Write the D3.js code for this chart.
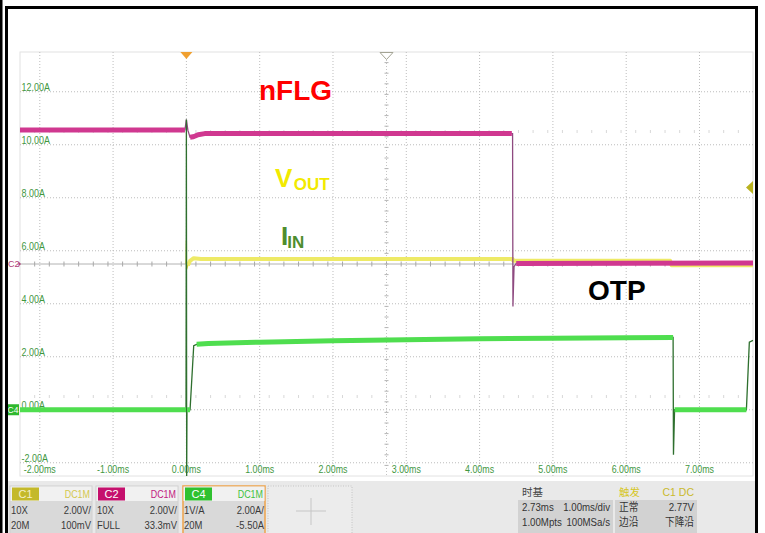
<!DOCTYPE html>
<html>
<head>
<meta charset="utf-8">
<script src="https://cdn.jsdelivr.net/npm/d3@7"></script>
<style>
  body { margin: 0; background: #fff; }
  svg { display: block; font-family: Arial, "Liberation Sans", sans-serif; }
</style>
</head>
<body>
<svg id="canvas" width="765" height="533"></svg>
<script>
// ************************************************************************************** //
// Data (time in ms, levels in the C4 amp scale)

var time_ticks  = [-2, -1, 0, 1, 2, 3, 4, 5, 6, 7];
var time_labels = ['-2.00ms', '-1.00ms', '0.00ms', '1.00ms', '2.00ms', '3.00ms', '4.00ms', '5.00ms', '6.00ms', '7.00ms'];
var amp_ticks   = [-2, 0, 2, 4, 6, 8, 10, 12];
var amp_labels  = ['-2.00A', '0.00A', '2.00A', '4.00A', '6.00A', '8.00A', '10.00A', '12.00A'];

// nFLG (C2)
var nflg_t    = [-2.27, -0.02, 0.0, 0.02, 0.05, 0.09, 0.12, 0.16, 0.25, 4.44, 4.45, 4.455, 4.47, 4.5, 7.73];
var nflg_v    = [10.56, 10.56, 10.95, 10.55, 10.28, 10.3, 10.33, 10.38, 10.42, 10.42, 10.42, 3.9, 5.4, 5.52, 5.54];
var nflg_band = [10.56, 10.56, null, null, 10.28, 10.3, 10.33, 10.38, 10.42, 10.42, null, null, null, 5.52, 5.54];

// VOUT (C1)
var vout_t    = [-0.005, 0.0, 0.003, 0.02, 0.05, 0.1, 0.2, 4.45, 4.46, 6.6, 6.62, 7.73];
var vout_v    = [5.5, 6.4, 5.3, 5.45, 5.62, 5.72, 5.69, 5.69, 5.62, 5.62, 5.45, 5.45];
var vout_band = [null, null, null, 5.45, 5.62, 5.72, 5.69, 5.69, 5.62, 5.62, 5.45, 5.45];

// IIN (C4)
var iin_t    = [-2.27, -0.005, 0.0, 0.004, 0.008, 0.05, 0.1, 0.14, 0.3, 1, 2, 3, 4, 5, 6, 6.64, 6.645, 6.66, 7.64, 7.68, 7.73];
var iin_v    = [0, 0, 10.95, -2.5, 0, 0, 2.42, 2.47, 2.5, 2.55, 2.6, 2.64, 2.68, 2.7, 2.72, 2.73, -1.7, 0, 0, 2.55, 2.62];
var iin_band = [0, 0, null, null, 0, 0, null, 2.47, 2.5, 2.55, 2.6, 2.64, 2.68, 2.7, 2.72, 2.73, null, 0, 0, null, null];

// Bottom info panel
var ch_names = ['C1', 'C2', 'C4'];
var ch_coupling = ['DC1M', 'DC1M', 'DC1M'];
var ch_row1 = [['10X', '2.00V/'], ['10X', '2.00V/'], ['1V/A', '2.00A/']];
var ch_row2 = [['20M', '100mV'], ['FULL', '33.3mV'], ['20M', '-5.50A']];
var time_head = ['时基', ''];
var time_row1 = ['2.73ms', '1.00ms/div'];
var time_row2 = ['1.00Mpts', '100MSa/s'];
var trig_head = ['触发', 'C1 DC'];
var trig_row1 = ['正常', '2.77V'];
var trig_row2 = ['边沿', '下降沿'];

var screen_center_t = 2.73;
var screen_center_a = 5.5;

// ************************************************************************************** //
// Styles

var ch_fill  = ['#c4b92a', '#c5106d', '#2fc12f'];
var ch_label = ['#f4f0c8', '#ffffff', '#ffffff'];
var ch_cpl   = ['#d4c84e', '#c2207f', '#3ec23e'];
var ch_box_x = [10, 96, 183];
var axis_green = '#3f973f';

var svg = d3.select('#canvas');
var x = d3.scaleLinear().domain([-2.27, 7.73]).range([20, 753]);
var y = d3.scaleLinear().domain([-2.5, 13.5]).range([476, 52]);

function squeeze(sel, f){
  sel.each(function(){
    var w = this.getComputedTextLength();
    d3.select(this).attr('textLength', w*f).attr('lengthAdjust', 'spacingAndGlyphs');
  });
}

// ************************************************************************************** //
// Frame and grid

svg.append('rect').attr('x', 0).attr('y', 0).attr('width', 765).attr('height', 533).attr('fill', '#fff');

var grid_g = svg.append('g');
grid_g.append('rect').attr('x', 20).attr('y', 52).attr('width', 733).attr('height', 424)
  .attr('fill', 'none').attr('stroke', '#e2e2e2');

grid_g.selectAll('.vgrid').data(time_ticks).enter().append('line')
  .attr('x1', function(d){ return x(d); }).attr('x2', function(d){ return x(d); })
  .attr('y1', 52).attr('y2', 476)
  .attr('stroke', '#bdbdbd').attr('stroke-dasharray', '1,2');

grid_g.selectAll('.hgrid').data(amp_ticks).enter().append('line')
  .attr('x1', 20).attr('x2', 753)
  .attr('y1', function(d){ return y(d); }).attr('y2', function(d){ return y(d); })
  .attr('stroke', '#bdbdbd').attr('stroke-dasharray', '1,2');

// faint tick rows
var tk = d3.range(-25, 26).map(function(k){ return screen_center_t + k*0.2; })
  .filter(function(t){ return t > -2.27 && t < 7.73; });
[screen_center_a + 5, screen_center_a - 5].forEach(function(a){
  grid_g.selectAll(null).data(tk).enter().append('line')
    .attr('x1', function(d){ return x(d); }).attr('x2', function(d){ return x(d); })
    .attr('y1', y(a) - 1.5).attr('y2', y(a) + 1.5)
    .attr('stroke', '#d8d8d8');
});

// centre axes with ticks
grid_g.append('line').attr('x1', 20).attr('x2', 753)
  .attr('y1', y(screen_center_a)).attr('y2', y(screen_center_a)).attr('stroke', '#b2b2b2');
grid_g.selectAll(null).data(tk).enter().append('line')
  .attr('x1', function(d){ return x(d); }).attr('x2', function(d){ return x(d); })
  .attr('y1', y(screen_center_a) - 2.5).attr('y2', y(screen_center_a) + 2.5)
  .attr('stroke', '#a8a8a8');

var ak = d3.range(-20, 21).map(function(k){ return screen_center_a + k*0.4; })
  .filter(function(a){ return a > -2.5 && a < 13.5; });
grid_g.append('line').attr('x1', x(screen_center_t)).attr('x2', x(screen_center_t))
  .attr('y1', 60).attr('y2', 476).attr('stroke', '#c4c4c4').attr('stroke-dasharray', '1,2');
grid_g.selectAll(null).data(ak).enter().append('line')
  .attr('x1', x(screen_center_t) - 2).attr('x2', x(screen_center_t) + 2)
  .attr('y1', function(d){ return y(d); }).attr('y2', function(d){ return y(d); })
  .attr('stroke', '#b4b4b4');

// axis labels
var ylab = svg.selectAll('.ylab').data(amp_ticks).enter().append('text')
  .attr('x', 21.5).attr('y', function(d){ return y(d) - 1; })
  .attr('font-size', 11.5).attr('fill', axis_green)
  .text(function(d, i){ return amp_labels[i]; });
squeeze(ylab, 0.78);

var xlab = svg.selectAll('.xlab').data(time_ticks).enter().append('text')
  .attr('x', function(d){ return x(d); }).attr('y', 472.5)
  .attr('text-anchor', 'middle').attr('font-size', 11.5).attr('fill', axis_green)
  .text(function(d, i){ return time_labels[i]; });
squeeze(xlab, 0.77);

// ************************************************************************************** //
// Traces

function drawTrace(ts, vs, band, thin_col, band_col, band_w){
  var pts = ts.map(function(t, i){ return [t, vs[i], band[i]]; });
  var thin = d3.line().x(function(d){ return x(d[0]); }).y(function(d){ return y(d[1]); });
  var thick = d3.line().defined(function(d){ return d[2] != null; })
    .x(function(d){ return x(d[0]); }).y(function(d){ return y(d[2]); });
  svg.append('path').attr('d', thin(pts)).attr('fill', 'none')
    .attr('stroke', thin_col).attr('stroke-width', 1.3);
  svg.append('path').attr('d', thick(pts)).attr('fill', 'none')
    .attr('stroke', band_col).attr('stroke-width', band_w).attr('stroke-linejoin', 'round');
}

drawTrace(vout_t, vout_v, vout_band, '#d8d040', '#eeea66', 4);
drawTrace(nflg_t, nflg_v, nflg_band, '#8e4a80', '#d03890', 5);
drawTrace(iin_t, iin_v, iin_band, '#2e6f2e', '#4fde4f', 5);

// ************************************************************************************** //
// Markers

svg.append('path').attr('d', 'M' + (x(0) - 6) + ',52L' + (x(0) + 6) + ',52L' + x(0) + ',59Z').attr('fill', '#f0a030');
var cx = x(screen_center_t);
svg.append('path').attr('d', 'M' + (cx - 6.5) + ',52.5L' + (cx + 6.5) + ',52.5L' + cx + ',59.5Z')
  .attr('fill', '#fff').attr('stroke', '#a4a494');
svg.append('path').attr('d', 'M753,181L753,194L746,187.5Z').attr('fill', '#b9b21f');

svg.append('text').attr('x', 8).attr('y', y(screen_center_a) + 3).attr('font-size', 9)
  .attr('fill', '#b04078').text('C2');
svg.append('path').attr('d', 'M18.5,' + (y(screen_center_a) - 2.5) + 'L21,' + y(screen_center_a) + 'L18.5,' + (y(screen_center_a) + 2.5) + 'Z')
  .attr('fill', '#b04078');
svg.append('rect').attr('x', 7).attr('y', y(0) - 5.5).attr('width', 12).attr('height', 11).attr('fill', '#2eb82e');
svg.append('text').attr('x', 13).attr('y', y(0) + 3.5).attr('text-anchor', 'middle')
  .attr('font-size', 8.5).attr('fill', '#fff').text('C4');

// ************************************************************************************** //
// Annotations

svg.append('text').attr('x', 259).attr('y', 100).attr('font-size', 28).attr('font-weight', 'bold')
  .attr('fill', '#ff0000').text('nFLG');
var vt = svg.append('text').attr('x', 275).attr('y', 187).attr('font-weight', 'bold').attr('fill', '#f2ea00');
vt.append('tspan').attr('font-size', 26).text('V');
vt.append('tspan').attr('font-size', 17).attr('dy', 3).attr('dx', 1.5).text('OUT');
var it = svg.append('text').attr('x', 281).attr('y', 245).attr('font-weight', 'bold').attr('fill', '#4e8d2e');
it.append('tspan').attr('font-size', 26).text('I');
it.append('tspan').attr('font-size', 17).attr('dy', 3).attr('dx', -1).text('IN');
svg.append('text').attr('x', 588).attr('y', 300).attr('font-size', 28).attr('font-weight', 'bold')
  .attr('fill', '#000').text('OTP');

// ************************************************************************************** //
// Bottom panel

var panel = svg.append('g');
panel.append('rect').attr('x', 8).attr('y', 481).attr('width', 747).attr('height', 52).attr('fill', '#e9e9e9');

ch_names.forEach(function(name, i){
  var x0 = ch_box_x[i];
  panel.append('rect').attr('x', x0).attr('y', 486).attr('width', 82).attr('height', 50)
    .attr('fill', '#d9d9d9').attr('stroke', i == 2 ? '#eea24a' : '#d0d0d0').attr('stroke-width', i == 2 ? 1.5 : 1);
  panel.append('rect').attr('x', x0 + 0.5).attr('y', 486.5).attr('width', 81).attr('height', 14.5).attr('fill', '#f1f1f1');
  panel.append('rect').attr('x', x0 + 2).attr('y', 487.5).attr('width', 27).attr('height', 13).attr('fill', ch_fill[i]);
  panel.append('text').attr('x', x0 + 15.5).attr('y', 498).attr('text-anchor', 'middle')
    .attr('font-size', 11).attr('fill', ch_label[i]).text(name);
  var t = panel.append('text').attr('x', x0 + 80).attr('y', 498).attr('text-anchor', 'end')
    .attr('font-size', 10.5).attr('fill', ch_cpl[i]).text(ch_coupling[i]);
  squeeze(t, 0.85);
  [ch_row1[i], ch_row2[i]].forEach(function(row, r){
    var yy = 514 + r*15;
    var a = panel.append('text').attr('x', x0 + 1).attr('y', yy).attr('font-size', 11).attr('fill', '#3a3a3a').text(row[0]);
    var b = panel.append('text').attr('x', x0 + 81).attr('y', yy).attr('text-anchor', 'end').attr('font-size', 11).attr('fill', '#3a3a3a').text(row[1]);
    squeeze(a, 0.86); squeeze(b, 0.86);
  });
});

// cursor box
panel.append('rect').attr('x', 268).attr('y', 486).attr('width', 84).attr('height', 50)
  .attr('fill', '#ececec').attr('stroke', '#c4c4c4').attr('stroke-dasharray', '1,1.5');
panel.append('line').attr('x1', 296).attr('x2', 326).attr('y1', 511).attr('y2', 511).attr('stroke', '#c6c6c6');
panel.append('line').attr('x1', 311).attr('x2', 311).attr('y1', 498).attr('y2', 525).attr('stroke', '#c6c6c6');

// time base and trigger boxes
function infoBox(x0, w, head, r1, r2, head_col){
  panel.append('rect').attr('x', x0).attr('y', 500).attr('width', w).attr('height', 33).attr('fill', '#d2d2d2');
  panel.append('text').attr('x', x0 + 4).attr('y', 496).attr('font-size', 10.5)
    .attr('font-family', '"Noto Sans CJK SC", sans-serif').attr('fill', head_col[0]).text(head[0]);
  panel.append('text').attr('x', x0 + w - 3).attr('y', 496).attr('text-anchor', 'end').attr('font-size', 10.5)
    .attr('fill', head_col[1]).text(head[1]);
  [r1, r2].forEach(function(row, r){
    var yy = 511 + r*14.5;
    var a = panel.append('text').attr('x', x0 + 4).attr('y', yy).attr('font-size', 11)
      .attr('font-family', 'Arial, "Noto Sans CJK SC", sans-serif').attr('fill', '#333').text(row[0]);
    var b = panel.append('text').attr('x', x0 + w - 3).attr('y', yy).attr('text-anchor', 'end').attr('font-size', 11)
      .attr('font-family', 'Arial, "Noto Sans CJK SC", sans-serif').attr('fill', '#333').text(row[1]);
    squeeze(a, 0.88); squeeze(b, 0.88);
  });
}
infoBox(518, 95, time_head, time_row1, time_row2, ['#444', '#444']);
infoBox(615, 82, trig_head, trig_row1, trig_row2, ['#d6c61e', '#c9b92c']);

// ************************************************************************************** //
// Black photo frame

svg.append('rect').attr('x', 0).attr('y', 0).attr('width', 2.5).attr('height', 533).attr('fill', '#000');
svg.append('path').attr('d', 'M6.5,533L6.5,7.5L756.5,7.5L756.5,533')
  .attr('fill', 'none').attr('stroke', '#000').attr('stroke-width', 3);
</script>
</body>
</html>
